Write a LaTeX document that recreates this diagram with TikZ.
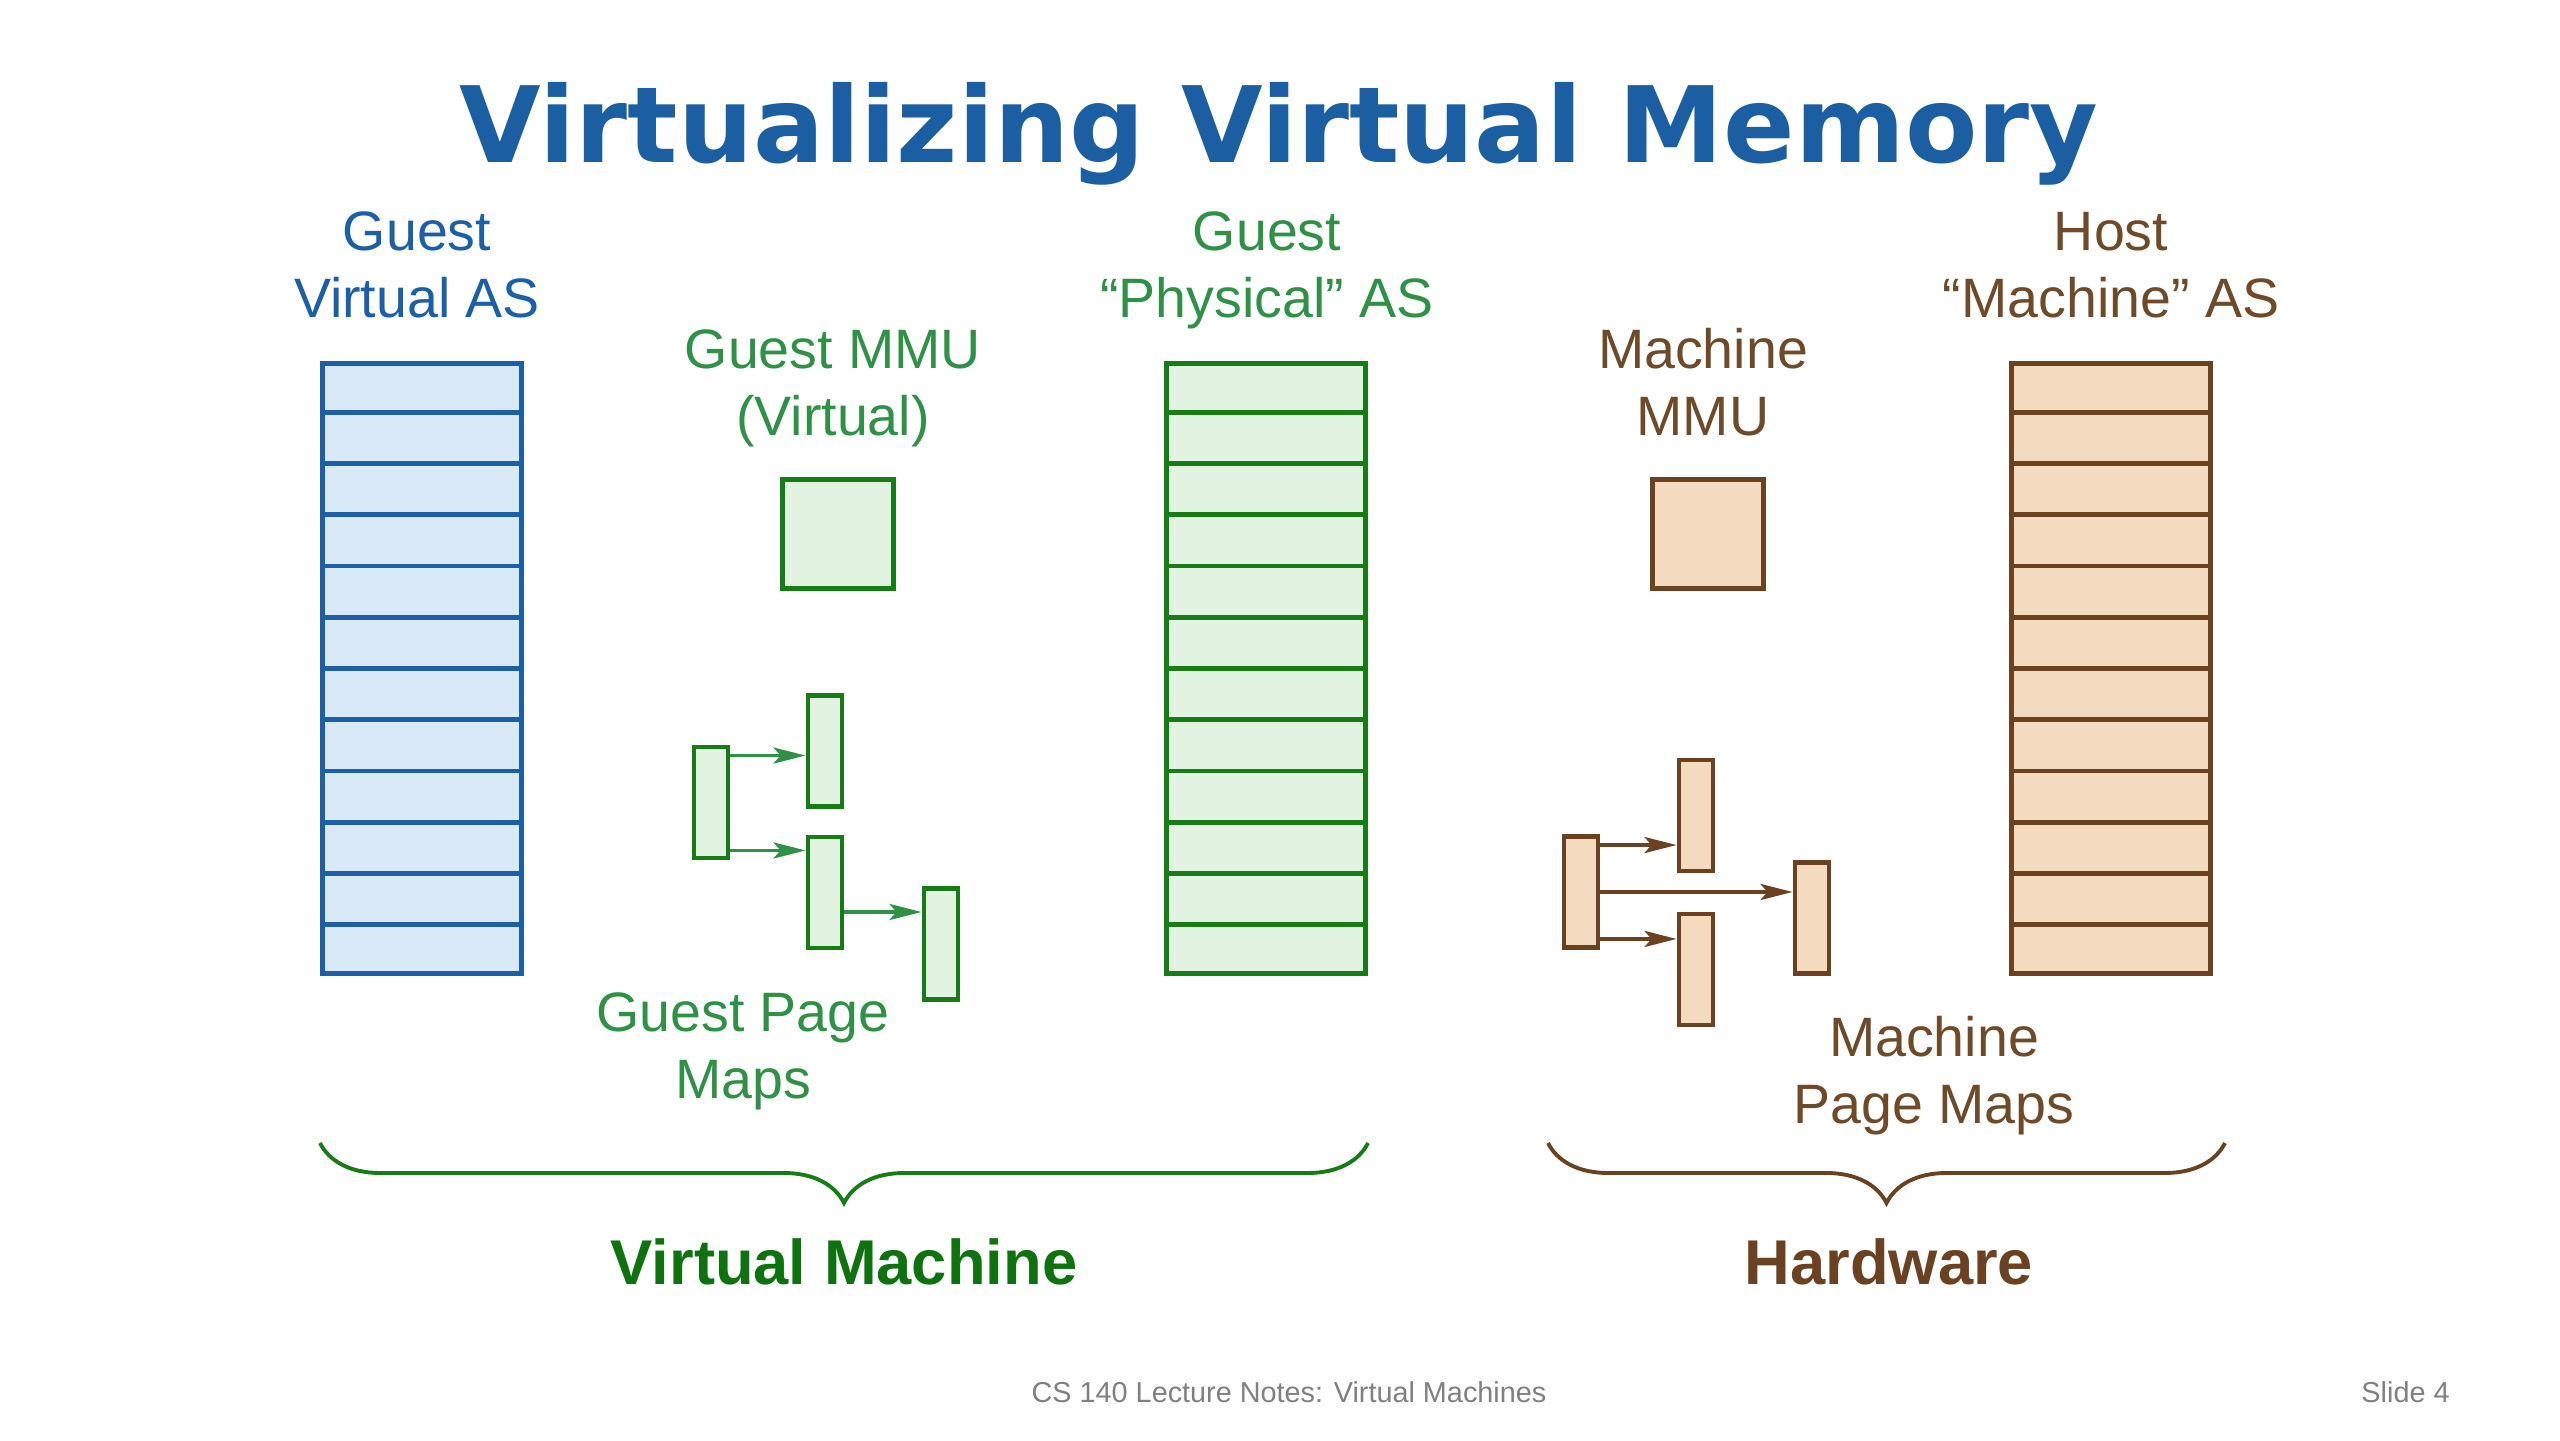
\documentclass[tikz,border=0pt]{standalone}
\usepackage{fontspec}
\setmainfont{Liberation Sans}
\newfontfamily\titlefont{DejaVu Sans Bold}
\usepackage{tikz}
\usetikzlibrary{arrows.meta,calc,decorations.pathreplacing}

\definecolor{titleblue}{RGB}{28,94,162}
\definecolor{asblue}{RGB}{26,95,168}
\definecolor{asbluefill}{RGB}{218,233,248}
\definecolor{vmgreen}{RGB}{22,124,22}
\definecolor{vmgreenfill}{RGB}{226,243,226}
\definecolor{vmgreentext}{RGB}{46,145,70}
\definecolor{vmgreendark}{RGB}{14,114,14}
\definecolor{hwbrown}{RGB}{107,66,33}
\definecolor{hwbrownfill}{RGB}{244,219,192}
\definecolor{hwbrowntext}{RGB}{110,74,40}
\definecolor{footgray}{RGB}{128,128,128}

\begin{document}
\begin{tikzpicture}[
  bluepart/.style={draw=asblue,fill=asbluefill},
  greenpart/.style={draw=vmgreen,fill=vmgreenfill},
  brownpart/.style={draw=hwbrown,fill=hwbrownfill},
  ascol/.style={line width=1.4pt,minimum width=1.99cm,minimum height=6.10cm,inner sep=0pt},
  mmubox/.style={line width=1.4pt,minimum width=1.11cm,minimum height=1.09cm,inner sep=0pt},
  pmbox/.style={line width=1.4pt,minimum width=0.34cm,minimum height=1.11cm,inner sep=0pt},
  lbl/.style={font=\fontsize{15.8}{19.2}\selectfont,align=center,anchor=base},
  biglbl/.style={font=\bfseries\fontsize{18}{22}\selectfont,anchor=base},
  footlbl/.style={font=\fontsize{8.2}{10}\selectfont,text=footgray},
  pmarrow/.style={-{Stealth[length=3.2mm,width=1.6mm,inset=0.7mm]},line width=1.1pt},
  grbrace/.style={decorate,decoration={brace,amplitude=6mm},line width=1.1pt}]
  \fill[white] (0,0) rectangle (25.6,14.4);
  \useasboundingbox (0,0) rectangle (25.6,14.4);

  \node[font=\titlefont\fontsize{30}{36}\selectfont,text=titleblue,anchor=base] (title) at (12.79,12.77) {Virtualizing Virtual Memory};

  \node[ascol,bluepart] (gva) at (4.22,7.715) {};
  \node[ascol,greenpart] (gpa) at (12.66,7.715) {};
  \node[ascol,brownpart] (hma) at (21.11,7.715) {};
  \foreach \n/\c in {gva/asblue,gpa/vmgreen,hma/hwbrown}
    \foreach \i in {1,...,11}
      \draw[\c,line width=1.4pt] ($(\n.south west)!\i/12!(\n.north west)$) -- ($(\n.south east)!\i/12!(\n.north east)$);

  \node[lbl,text=asblue] (gvalbl) at (4.17,11.22) {Guest\\Virtual AS};
  \node[lbl,text=vmgreentext] (gpalbl) at (12.67,11.22) {Guest\\``Physical'' AS};
  \node[lbl,text=hwbrowntext] (hmalbl) at (21.11,11.22) {Host\\``Machine'' AS};

  \node[mmubox,greenpart] (gmmu) at (8.38,9.06) {};
  \node[mmubox,brownpart] (mmmu) at (17.08,9.06) {};
  \node[lbl,text=vmgreentext] (gmmulbl) at (8.33,10.04) {Guest MMU\\(Virtual)};
  \node[lbl,text=hwbrowntext] (mmmulbl) at (17.03,10.04) {Machine\\MMU};

  \node[pmbox,greenpart] (gpm1) at (7.11,6.375) {};
  \node[pmbox,greenpart] (gpm2) at (8.25,6.89) {};
  \node[pmbox,greenpart] (gpm3) at (8.25,5.475) {};
  \node[pmbox,greenpart] (gpm4) at (9.41,4.96) {};
  \coordinate (g12) at ([yshift=-1.1mm]gpm1.north east);
  \coordinate (g13) at ([yshift=1mm]gpm1.south east);
  \coordinate (g34) at ([yshift=-1.95mm]gpm3.east);
  \draw[pmarrow,vmgreentext] (g12) -- (g12 -| gpm2.west);
  \draw[pmarrow,vmgreentext] (g13) -- (g13 -| gpm3.west);
  \draw[pmarrow,vmgreentext] (g34) -- (g34 -| gpm4.west);
  \node[lbl,text=vmgreentext] (gpmlbl) at (7.43,3.41) {Guest Page\\Maps};

  \node[pmbox,brownpart] (mpm1) at (15.81,5.48) {};
  \node[pmbox,brownpart] (mpm2) at (16.96,6.245) {};
  \node[pmbox,brownpart] (mpm3) at (16.96,4.705) {};
  \node[pmbox,brownpart] (mpm4) at (18.12,5.22) {};
  \coordinate (m12) at ([yshift=-1.1mm]mpm1.north east);
  \coordinate (m13) at ([yshift=1.1mm]mpm1.south east);
  \draw[pmarrow,hwbrown] (m12) -- (m12 -| mpm2.west);
  \draw[pmarrow,hwbrown] (mpm1.east) -- (mpm1.east -| mpm4.west);
  \draw[pmarrow,hwbrown] (m13) -- (m13 -| mpm3.west);
  \node[lbl,text=hwbrowntext] (mpmlbl) at (19.34,3.16) {Machine\\Page Maps};

  \draw[grbrace,vmgreen] (13.68,2.97) -- (3.20,2.97);
  \draw[grbrace,hwbrown] (22.25,2.97) -- (15.48,2.97);
  \node[biglbl,text=vmgreendark] (vmlbl) at (8.44,1.56) {Virtual Machine};
  \node[biglbl,text=hwbrown] (hwlbl) at (18.89,1.56) {Hardware};

  \node[footlbl,anchor=base] (foot) at (12.89,0.38) {CS 140 Lecture Notes: Virtual Machines};
  \node[footlbl,anchor=base east] (slide) at (24.62,0.38) {Slide 4};
\end{tikzpicture}
\end{document}
